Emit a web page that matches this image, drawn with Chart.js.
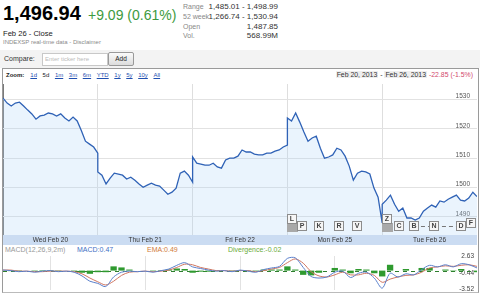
<!DOCTYPE html>
<html><head><meta charset="utf-8">
<script src="https://cdn.jsdelivr.net/npm/chart.js@4.4.1/dist/chart.umd.min.js"></script>
<style>
html,body{margin:0;padding:0}
body{width:480px;height:296px;overflow:hidden;background:#fff;position:relative;font-family:"Liberation Sans",Arial,sans-serif;color:#222}
.a{position:absolute;white-space:nowrap}
#price{left:3px;top:3px;font-size:20px;line-height:20px;font-weight:bold;color:#000}
#chg{left:88px;top:8px;font-size:14px;line-height:14px;color:#3d9a40}
.lbl{left:183px;font-size:7px;line-height:10px;color:#888}
.val{right:202px;font-size:8px;line-height:10px;color:#333;text-align:right}
#close{left:3px;top:29px;font-size:7.6px;line-height:10px;color:#222}
#src{left:3px;top:39px;font-size:6px;line-height:6px;color:#8a8a8a}
#cmpbar{left:0;top:50px;width:480px;height:18px;background:#f3f3f3}
#cmp{left:4px;top:54px;font-size:7px;line-height:9px;color:#333}
#inp{left:42px;top:53px;width:62px;height:11px;background:#fff;border:1px solid #c8c8c8;box-sizing:content-box;font-size:6px;line-height:11px;color:#bbb;padding-left:2px}
#add{left:108px;top:52px;width:24px;height:12px;border:1px solid #999;border-radius:2px;background:linear-gradient(#fafafa,#dcdcdc);font-size:6.5px;line-height:12px;text-align:center;color:#222}
#box{left:2px;top:68px;width:475px;height:223px;border:1px solid #9a9a9a;border-bottom-color:#bbb}
#zoomrow{left:6px;top:72px;font-size:6px;line-height:7px;color:#222}
#zoomrow b{margin-right:6px}
#zoomrow span{color:#1f4fb0;text-decoration:underline;margin-right:5.6px}
#zoomrow span.sel{color:#222;text-decoration:none}
#range{right:7px;top:71px;font-size:6.9px;line-height:8px;color:#333}
#range .d{background:#eeeeee;padding:0 1px}
#range .neg{color:#d2476a}
#band{left:3px;top:235px;width:474px;height:10px;background:#cbdcf2}
#mrow{left:5px;top:246px;font-size:7px;line-height:7px;color:#999}
#mrow span{position:absolute;top:0}
#c1wrap{left:0;top:84px;width:480px;height:161px}
#c2wrap{left:0;top:252px;width:480px;height:42px}
</style></head><body>
<div class="a" id="price">1,496.94</div>
<div class="a" id="chg">+9.09 (0.61%)</div>
<div class="a lbl" style="top:2px">Range</div>
<div class="a lbl" style="top:12px">52 week</div>
<div class="a lbl" style="top:22px">Open</div>
<div class="a lbl" style="top:31px">Vol.</div>
<div class="a val" style="top:2px">1,485.01 - 1,498.99</div>
<div class="a val" style="top:12px">1,266.74 - 1,530.94</div>
<div class="a val" style="top:22px">1,487.85</div>
<div class="a val" style="top:31px">568.99M</div>
<div class="a" id="close">Feb 26 - Close</div>
<div class="a" id="src">INDEXSP real-time data - Disclaimer</div>
<div class="a" id="cmpbar"></div>
<div class="a" id="cmp">Compare:</div>
<div class="a" id="inp">Enter ticker here</div>
<div class="a" id="add">Add</div>
<div class="a" id="box"></div>
<div class="a" id="zoomrow"><b>Zoom:</b><span>1d</span><span class="sel">5d</span><span>1m</span><span>3m</span><span>6m</span><span>YTD</span><span>1y</span><span>5y</span><span>10y</span><span>All</span></div>
<div class="a" id="range"><span class="d">Feb 20, 2013</span> - <span class="d">Feb 26, 2013</span> <span class="neg">-22.85 (-1.5%)</span></div>
<div class="a" id="band"></div>
<div class="a" id="mrow"><span style="left:0">MACD(12,26,9,2m)</span><span style="left:72px;color:#3f6fc4">MACD:0.47</span><span style="left:142px;color:#d07a3a">EMA:0.49</span><span style="left:223px;color:#6aab3a">Divergence:-0.02</span></div>
<div class="a" id="c1wrap"><canvas id="c1"></canvas></div>
<div class="a" id="c2wrap"><canvas id="c2"></canvas></div>
<script>
// ---- data ----
const dayLabels = ['Wed Feb 20', 'Thu Feb 21', 'Fri Feb 22', 'Mon Feb 25', 'Tue Feb 26'];
const priceTicks = [1490, 1500, 1510, 1520, 1530];
const wedFeb20 = [1530.5, 1528.8, 1527.8, 1528.8, 1529.1, 1527.8, 1526.4, 1525.1, 1523.3, 1524.4, 1524.7, 1525.4,
                  1525.1, 1524.4, 1525.1, 1523.7, 1522.7, 1524.0, 1522.7, 1519.4, 1515.8, 1514.8, 1513.8, 1511.7];
const thuFeb21 = [1505.3, 1504.2, 1501.2, 1503.2, 1504.9, 1504.6, 1504.2, 1502.9, 1503.5, 1502.5, 1501.2, 1500.1,
                  1500.8, 1501.5, 1500.8, 1500.5, 1499.1, 1497.7, 1498.4, 1499.8, 1504.9, 1505.6, 1504.2, 1501.8];
const friFeb22 = [1510.4, 1508.3, 1508.0, 1507.6, 1507.6, 1508.3, 1507.0, 1506.6, 1509.4, 1510.0, 1510.0, 1510.7,
                  1512.8, 1512.1, 1512.1, 1511.4, 1511.1, 1511.1, 1511.7, 1511.7, 1512.4, 1512.8, 1513.8, 1514.5];
const monFeb25 = [1523.7, 1522.7, 1525.4, 1522.3, 1518.9, 1515.8, 1516.9, 1517.5, 1513.4, 1510.0, 1510.4, 1511.1,
                  1513.4, 1512.8, 1510.7, 1507.3, 1502.5, 1504.9, 1505.6, 1505.3, 1504.6, 1499.8, 1496.7, 1487.9];
const tueFeb26 = [1494.3, 1495.7, 1497.4, 1494.3, 1491.9, 1493.0, 1489.6, 1489.6, 1488.9, 1489.6, 1491.9, 1493.0,
                  1494.0, 1493.3, 1495.4, 1495.0, 1496.0, 1496.7, 1497.4, 1495.7, 1495.4, 1496.4, 1498.4, 1496.9];
const macdTicks = [2.63, -0.44, -3.52];
const macdLine = [0.1, 0.0, -0.2, -0.1, -0.3, -0.1, 0.0, -0.2, -0.1, -0.3, -1.0, -2.0,
                  -2.4, -3.0, -1.2, -0.3, -0.1, -0.2, -0.1, -0.3, 0.0, 0.3, 1.0, 1.5,
                  0.7, 0.4, 0.1, -0.1, 0.0, -0.2, 0.1, -0.1, -0.3, 0.2, 0.5, 0.8,
                  2.3, 2.4, 0.6, -1.1, -1.4, -1.2, -0.3, -0.1, -1.3, -0.5, -0.3, -1.4,
                  -3.3, -0.5, -1.2, -0.6, -0.8, 0.2, 1.0, 0.7, 1.1, 0.7, 1.3, 1.1, 0.5];
const emaLine = [0.1, 0.1, -0.1, -0.1, -0.2, -0.2, -0.1, -0.1, -0.1, -0.2, -0.6, -1.4,
                 -2.1, -2.7, -2.0, -0.9, -0.3, -0.2, -0.1, -0.2, -0.1, 0.1, 0.6, 1.2,
                 1.1, 0.6, 0.3, 0.0, 0.0, -0.1, 0.0, 0.0, -0.2, 0.0, 0.3, 0.6,
                 1.5, 2.2, 1.4, -0.2, -1.0, -1.2, -0.8, -0.3, -0.8, -0.8, -0.5, -0.9,
                 -2.2, -1.6, -1.2, -0.9, -0.8, -0.3, 0.5, 0.7, 0.9, 0.8, 1.0, 1.1, 0.8];
const divergence = [0.0, -0.1, -0.1, 0.0, -0.1, 0.1, 0.1, -0.1, 0.0, -0.1, -0.4, -0.6,
                    -0.3, -0.3, 0.8, 0.6, 0.2, 0.0, 0.0, -0.1, 0.1, 0.2, 0.4, 0.3,
                    -0.4, -0.2, -0.2, -0.1, 0.0, -0.1, 0.1, -0.1, -0.1, 0.2, 0.2, 0.2,
                    0.8, 0.2, -0.8, -0.9, -0.4, 0.0, 0.5, 0.2, -0.5, 0.3, 0.2, -0.5,
                    -1.1, 1.1, 0.0, 0.3, 0.0, 0.5, 0.5, 0.0, 0.2, -0.1, 0.3, 0.0, -0.3];
const flagLetters = ['L', 'P', 'K', 'R', 'V', 'Z', 'C', 'B', 'N', 'D', 'F'];
const flagTimes   = [3.05, 3.15, 3.33, 3.54, 3.73, 4.055, 4.18, 4.335, 4.545, 4.83, 4.94];
const flagStacked = [true, false, false, false, false, true, false, false, false, false, false];

// ---- build points (positions via the library's linear scale) ----
const days = [wedFeb20, thuFeb21, friFeb22, monFeb25, tueFeb26];
const pricePts = [];
days.forEach((arr, d) => arr.forEach((v, i) => pricePts.push({x: d + i / (arr.length - 1), y: v})));
const perDay = (macdLine.length - 1) / dayLabels.length;
const toPts = arr => arr.map((v, i) => ({x: i / perDay, y: v}));

const FONT = '"Liberation Sans", Arial, sans-serif';
Chart.defaults.font.family = FONT;
Chart.defaults.animation = false;

const noPadY = s => { s.paddingTop = 0; s.paddingBottom = 0; s.width = 0; };
const dayGrid = edge => c => c.tick && c.tick.value === 0 ? '#7a7a7a' :
                             (c.tick && c.tick.value === dayLabels.length ? 'rgba(0,0,0,0)' : edge);

const flagPlugin = {
  id: 'flags',
  afterDatasetsDraw(chart) {
    const {ctx, chartArea, scales} = chart;
    const b = chartArea.bottom;
    ctx.save();
    const xB = scales.x.getPixelForValue(flagTimes[7]);
    const xD = scales.x.getPixelForValue(flagTimes[9]);
    ctx.strokeStyle = '#777'; ctx.lineWidth = 1; ctx.setLineDash([4, 3]);
    ctx.beginPath(); ctx.moveTo(xB, b - 8.5); ctx.lineTo(xD, b - 8.5); ctx.stroke();
    ctx.setLineDash([]);
    ctx.font = 'bold 7px ' + FONT;
    ctx.textAlign = 'center'; ctx.textBaseline = 'middle';
    flagLetters.forEach((L, i) => {
      const cx = Math.round(scales.x.getPixelForValue(flagTimes[i]));
      let top = b - 14;
      if (flagStacked[i]) {
        ctx.fillStyle = '#a9a9a9';
        ctx.fillRect(cx - 5, b - 12, 11, 9);
        top = b - 21;
      } else if (L === 'F') {
        top = b - 17;
      }
      ctx.fillStyle = '#f6f6f6';
      ctx.fillRect(cx - 4.5, top + 0.5, 9, 9);
      ctx.strokeStyle = '#8c8c8c';
      ctx.strokeRect(cx - 4.5, top + 0.5, 9, 9);
      ctx.fillStyle = '#444';
      ctx.fillText(L, cx, top + 5.2);
    });
    ctx.restore();
  }
};

new Chart(document.getElementById('c1'), {
  type: 'line',
  data: {datasets: [{
    data: pricePts,
    borderColor: '#2f62b6',
    borderWidth: 1.3,
    backgroundColor: 'rgba(171,211,247,0.25)',
    fill: 'start',
    pointRadius: 0,
    tension: 0
  }]},
  options: {
    responsive: true, maintainAspectRatio: false,
    layout: {padding: {left: 3, right: 3, top: 0, bottom: 0}},
    plugins: {legend: {display: false}, tooltip: {enabled: false}},
    scales: {
      x: {
        type: 'linear', min: 0, max: dayLabels.length,
        afterBuildTicks: s => { s.ticks = dayLabels.map((_, i) => ({value: i})).concat([{value: dayLabels.length}]); },
        afterFit: s => { s.height = 0; },
        ticks: {display: false},
        border: {display: false},
        grid: {drawTicks: false, lineWidth: 1, color: dayGrid('#dedede')}
      },
      xl: {
        type: 'linear', position: 'bottom', min: 0, max: dayLabels.length,
        afterBuildTicks: s => { s.ticks = dayLabels.map((_, i) => ({value: i + 0.5})); },
        afterFit: s => { s.height = 10; s.paddingLeft = 0; s.paddingRight = 0; },
        ticks: {padding: 1.5, color: '#333', font: {size: 6.5, family: FONT}, maxRotation: 0, autoSkip: false,
                callback: (v) => dayLabels[Math.floor(v)]},
        border: {display: false},
        grid: {display: false, drawTicks: false}
      },
      y: {
        type: 'linear', position: 'right', min: 1483.8, max: 1535.3,
        afterBuildTicks: s => { s.ticks = priceTicks.map(v => ({value: v})); },
        afterFit: noPadY,
        ticks: {mirror: true, padding: -7, labelOffset: -3, color: '#555', font: {size: 6.5, family: FONT},
                callback: v => String(v)},
        border: {display: false},
        grid: {drawTicks: false, color: '#e2e2e2'}
      }
    }
  },
  plugins: [flagPlugin]
});

const zeroLine = {
  id: 'zeroLine',
  beforeDatasetsDraw(chart) {
    const {ctx, chartArea, scales} = chart;
    const y = Math.round(scales.y.getPixelForValue(0)) + 0.5;
    ctx.save();
    ctx.strokeStyle = '#2e7d2e'; ctx.lineWidth = 1; ctx.setLineDash([4, 4]);
    ctx.beginPath(); ctx.moveTo(chartArea.left, y); ctx.lineTo(chartArea.right, y); ctx.stroke();
    ctx.restore();
  }
};

new Chart(document.getElementById('c2'), {
  data: {datasets: [
    {type: 'line', data: toPts(macdLine), borderColor: '#5a80cc', borderWidth: 1, pointRadius: 0, tension: 0.3, order: 1},
    {type: 'line', data: toPts(emaLine), borderColor: '#cf7560', borderWidth: 1, pointRadius: 0, tension: 0.3, order: 2},
    {type: 'bar', data: toPts(divergence), backgroundColor: '#2f9a2f', barPercentage: 0.8, categoryPercentage: 1, order: 3}
  ]},
  options: {
    responsive: true, maintainAspectRatio: false,
    layout: {padding: {left: 3, right: 3, top: 4, bottom: 4}},
    plugins: {legend: {display: false}, tooltip: {enabled: false}},
    scales: {
      x: {
        type: 'linear', min: 0, max: dayLabels.length, offset: false,
        afterBuildTicks: s => { s.ticks = dayLabels.map((_, i) => ({value: i})).concat([{value: dayLabels.length}]); },
        afterFit: s => { s.height = 0; },
        ticks: {display: false},
        border: {display: false},
        grid: {drawTicks: false, color: dayGrid('#e2e2e2')}
      },
      y: {
        type: 'linear', position: 'right', min: -3.65, max: 2.75,
        afterBuildTicks: s => { s.ticks = macdTicks.map(v => ({value: v})); },
        afterFit: noPadY,
        ticks: {mirror: true, padding: -3, color: '#444', font: {size: 6.5, family: FONT},
                callback: v => v.toFixed(2)},
        border: {display: false},
        grid: {display: false, drawTicks: false}
      }
    }
  },
  plugins: [zeroLine]
});
</script>
</body></html>
